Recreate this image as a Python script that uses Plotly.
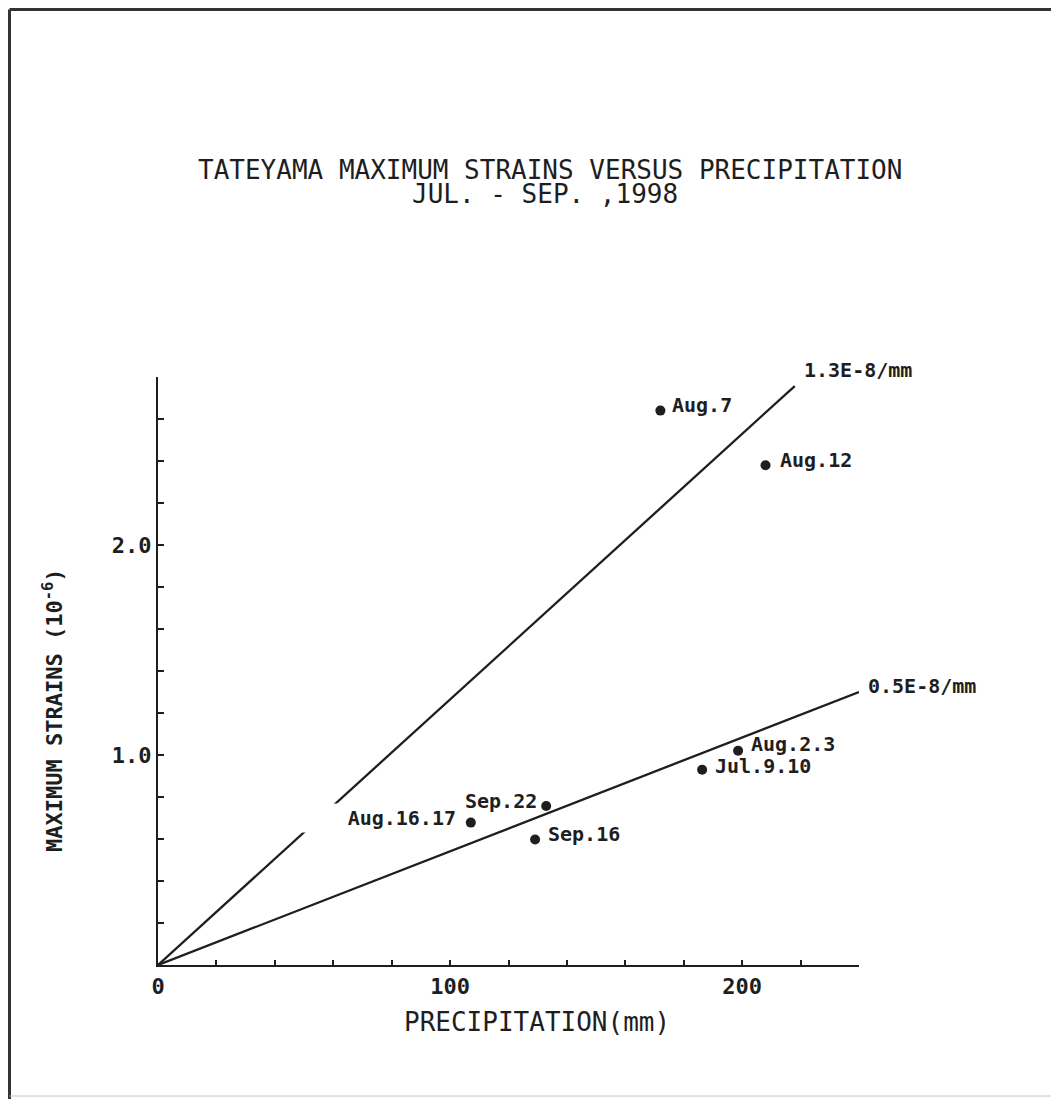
import plotly.graph_objects as go

# ---- data ----
dates = ["Aug.7", "Aug.12", "Aug.2.3", "Jul.9.10", "Sep.22", "Aug.16.17", "Sep.16"]
precip_mm = [172.0, 208.0, 198.6, 186.3, 132.9, 107.1, 129.1]
max_strain = [2.64, 2.38, 1.02, 0.93, 0.757, 0.678, 0.598]

rate_labels = ["1.3E-8/mm", "0.5E-8/mm"]
rate_x = [[0, 218.0], [0, 240.0]]
rate_y = [[0, 2.757], [0, 1.30]]

x_tickvals = [0, 20, 40, 60, 80, 100, 120, 140, 160, 180, 200, 220, 240]
x_ticktext = ["0", "", "", "", "", "100", "", "", "", "", "200", "", ""]
y_tickvals = [0, 0.2, 0.4, 0.6, 0.8, 1.0, 1.2, 1.4, 1.6, 1.8, 2.0, 2.2, 2.4, 2.6, 2.8]
y_ticktext = ["", "", "", "", "", "1.0", "", "", "", "", "2.0", "", "", "", ""]

title_lines = ["TATEYAMA MAXIMUM STRAINS VERSUS PRECIPITATION", "JUL. - SEP. ,1998"]
x_title = "PRECIPITATION(mm)"
y_title = "MAXIMUM STRAINS (10<sup>-6</sup>)"

# ---- styling ----
INK = "#1e1e1e"
MONO = "DejaVu Sans Mono"
# page body has an 8px margin, so the figure sits 8px in from the window corner
W, H = 1051, 1091
L, R, T, B = 150, 200, 369, 134
PW, PH = W - L - R, H - T - B
OFF = 8


def px(xr):  # window pixel -> paper x
    return (xr - OFF - L) / PW


def py(yr):  # window pixel -> paper y
    return (H - B - (yr - OFF)) / PH


fig = go.Figure()

for xs, ys in zip(rate_x, rate_y):
    fig.add_trace(go.Scatter(x=xs, y=ys, mode="lines",
                             line=dict(color=INK, width=2.3),
                             hoverinfo="skip", showlegend=False))

fig.add_trace(go.Scatter(x=precip_mm, y=max_strain, mode="markers",
                         marker=dict(color=INK, size=10, symbol="circle"),
                         cliponaxis=False, showlegend=False,
                         text=dates, hoverinfo="text"))

# label placement: (xanchor, xshift, yshift, white box width)
label_style = {
    "Aug.7": ("left", 10, 6, None),
    "Aug.12": ("left", 12, 5, None),
    "Aug.2.3": ("left", 11, 7, None),
    "Jul.9.10": ("left", 11, 4, None),
    "Sep.22": ("right", -7, 5, None),
    "Aug.16.17": ("right", -12, 5, 165),
    "Sep.16": ("left", 11, 5, None),
}

lab_font = dict(family=MONO, size=20, color=INK, weight="bold")

annotations = []
for d, xv, yv in zip(dates, precip_mm, max_strain):
    xa, xs, ys, wbox = label_style[d]
    a = dict(x=xv, y=yv, xref="x", yref="y", text=d, showarrow=False,
             xanchor=xa, yanchor="middle", xshift=xs, yshift=ys, font=lab_font)
    if wbox:
        a.update(bgcolor="white", width=wbox, align="right", borderpad=2)
    annotations.append(a)

for lab, xs, ys, dy in zip(rate_labels, rate_x, rate_y, [16, 6]):
    annotations.append(dict(x=xs[-1], y=ys[-1], xref="x", yref="y", text=lab,
                            showarrow=False, xanchor="left", yanchor="middle",
                            xshift=7, yshift=dy, font=lab_font))

# titles
annotations.append(dict(x=px(550), y=py(170), xref="paper", yref="paper",
                        text=title_lines[0], showarrow=False,
                        xanchor="center", yanchor="middle",
                        font=dict(family=MONO, size=26, color=INK)))
annotations.append(dict(x=px(545), y=py(194), xref="paper", yref="paper",
                        text=title_lines[1], showarrow=False,
                        xanchor="center", yanchor="middle",
                        font=dict(family=MONO, size=26, color=INK)))
annotations.append(dict(x=px(537), y=py(1022), xref="paper", yref="paper",
                        text=x_title, showarrow=False,
                        xanchor="center", yanchor="middle",
                        font=dict(family=MONO, size=26, color=INK)))
annotations.append(dict(x=px(53), y=py(710), xref="paper", yref="paper",
                        text=y_title, showarrow=False, textangle=-90,
                        xanchor="center", yanchor="middle",
                        font=dict(family=MONO, size=22, color=INK, weight="bold")))

# page frame (top, left, bottom)
shapes = [
    dict(type="line", xref="paper", yref="paper", x0=px(9.5), x1=px(OFF + W), y0=py(9.5), y1=py(9.5),
         line=dict(color="#333333", width=3)),
    dict(type="line", xref="paper", yref="paper", x0=px(9.5), x1=px(9.5), y0=py(9.5), y1=py(OFF + H),
         line=dict(color="#333333", width=3)),
    dict(type="line", xref="paper", yref="paper", x0=px(9.5), x1=px(OFF + W), y0=py(1096), y1=py(1096),
         line=dict(color="#c4c4c4", width=1)),
]

tick_font = dict(family=MONO, size=22, color=INK, weight="bold")

fig.update_layout(
    width=W, height=H,
    margin=dict(l=L, r=R, t=T, b=B, autoexpand=False),
    paper_bgcolor="white", plot_bgcolor="white",
    showlegend=False,
    annotations=annotations,
    shapes=shapes,
    xaxis=dict(range=[0, 240], showline=True, linecolor=INK, linewidth=2.3,
               ticks="inside", ticklen=5, tickwidth=2, tickcolor=INK,
               tickvals=x_tickvals, ticktext=x_ticktext, tickfont=tick_font,
               showgrid=False, zeroline=False, fixedrange=True),
    yaxis=dict(range=[0, 2.8], showline=True, linecolor=INK, linewidth=2.3,
               ticks="inside", ticklen=6, tickwidth=2, tickcolor=INK,
               tickvals=y_tickvals, ticktext=y_ticktext, tickfont=tick_font,
               showgrid=False, zeroline=False, fixedrange=True),
)

fig.write_html("out.html")
